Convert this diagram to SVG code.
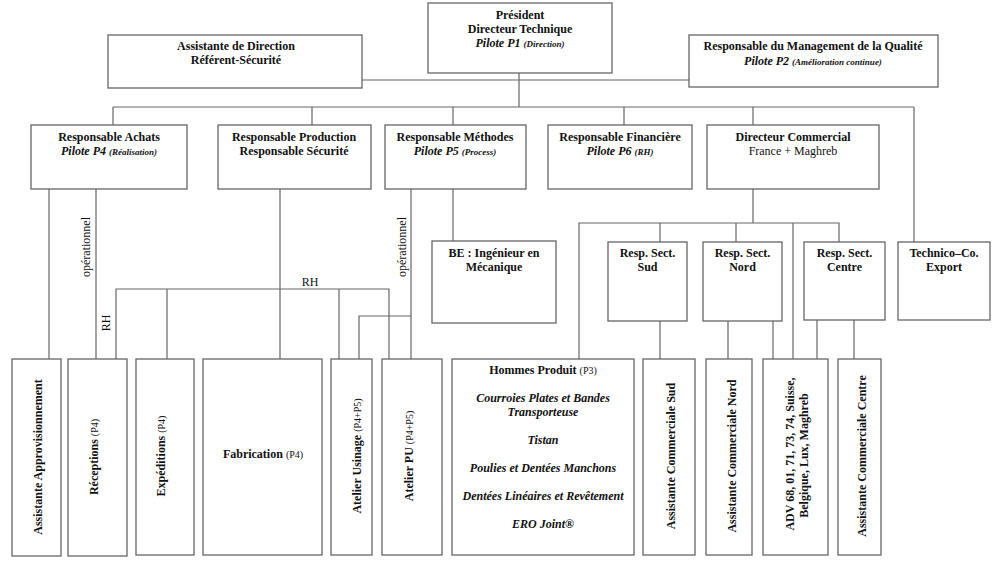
<svg xmlns="http://www.w3.org/2000/svg" width="1000" height="561" viewBox="0 0 1000 561">
<style>
rect.b{fill:#fff;stroke:#666;stroke-width:1.3}
.c line,.c path{stroke:#666;stroke-width:1.2;fill:none}
text{font-family:"Liberation Serif","Times New Roman",serif;font-size:12px;fill:#111}
.t{font-weight:bold;text-anchor:middle}
.m{text-anchor:middle}
.i{font-style:italic;font-weight:bold}
.s{font-size:9px}
.p{font-size:10px;font-weight:normal}
</style>
<rect width="1000" height="561" fill="#fff"/>
<g class="c" id="connectors">
<line x1="362" y1="80" x2="689" y2="80"/>
<line x1="519" y1="73" x2="519" y2="107"/>
<line x1="113" y1="107" x2="914" y2="107"/>
<line x1="113" y1="107" x2="113" y2="125"/>
<line x1="312" y1="107" x2="312" y2="125"/>
<line x1="453" y1="107" x2="453" y2="125"/>
<line x1="624" y1="107" x2="624" y2="125"/>
<line x1="753" y1="107" x2="753" y2="125"/>
<line x1="914" y1="107" x2="914" y2="242"/>
<line x1="49" y1="189" x2="49" y2="359"/>
<line x1="96" y1="189" x2="96" y2="359"/>
<line x1="280" y1="189" x2="280" y2="359"/>
<line x1="411" y1="189" x2="411" y2="359"/>
<line x1="453" y1="189" x2="453" y2="241"/>
<path d="M116 359V289H389V359"/>
<line x1="167" y1="289" x2="167" y2="359"/>
<line x1="339" y1="289" x2="339" y2="359"/>
<path d="M411 316H359V359"/>
<line x1="753" y1="189" x2="753" y2="223"/>
<path d="M579 359V223H839V242"/>
<line x1="660" y1="223" x2="660" y2="242"/>
<line x1="736" y1="223" x2="736" y2="242"/>
<line x1="793" y1="223" x2="793" y2="359"/>
<line x1="660" y1="321" x2="660" y2="359"/>
<line x1="728" y1="321" x2="728" y2="359"/>
<line x1="773" y1="321" x2="773" y2="359"/>
<line x1="817" y1="320" x2="817" y2="359"/>
<line x1="854" y1="320" x2="854" y2="359"/>
<text x="310" y="286" class="m">RH</text>
<text transform="translate(90,247) rotate(-90)" class="m">opérationnel</text>
<text transform="translate(406,247) rotate(-90)" class="m">opérationnel</text>
<text transform="translate(110,323) rotate(-90)" class="m">RH</text>
</g>
<g id="president">
<rect class="b" x="428" y="3" width="184" height="70"/>
<text x="520" y="19" class="t">Président</text>
<text x="520" y="33" class="t">Directeur Technique</text>
<text x="520" y="47" class="t"><tspan class="i">Pilote P1 </tspan><tspan class="i s">(Direction)</tspan></text>
</g>
<g id="assistante-direction">
<rect class="b" x="108" y="35" width="254" height="53"/>
<text x="236" y="50" class="t">Assistante de Direction</text>
<text x="236" y="64" class="t">Référent-Sécurité</text>
</g>
<g id="qualite">
<rect class="b" x="689" y="35" width="249" height="52"/>
<text x="813" y="50" class="t">Responsable du Management de la Qualité</text>
<text x="813" y="65" class="t"><tspan class="i">Pilote P2 </tspan><tspan class="i s">(Amélioration continue)</tspan></text>
</g>
<g id="achats">
<rect class="b" x="31" y="125" width="156" height="64"/>
<text x="109" y="141" class="t">Responsable Achats</text>
<text x="109" y="155" class="t"><tspan class="i">Pilote P4 </tspan><tspan class="i s">(Réalisation)</tspan></text>
</g>
<g id="production">
<rect class="b" x="218" y="125" width="153" height="64"/>
<text x="294" y="141" class="t">Responsable Production</text>
<text x="294" y="155" class="t">Responsable Sécurité</text>
</g>
<g id="methodes">
<rect class="b" x="385" y="125" width="141" height="64"/>
<text x="455" y="141" class="t">Responsable Méthodes</text>
<text x="455" y="155" class="t"><tspan class="i">Pilote P5 </tspan><tspan class="i s">(Process)</tspan></text>
</g>
<g id="financiere">
<rect class="b" x="548" y="125" width="144" height="64"/>
<text x="620" y="141" class="t">Responsable Financière</text>
<text x="620" y="155" class="t"><tspan class="i">Pilote P6 </tspan><tspan class="i s">(RH)</tspan></text>
</g>
<g id="directeur-commercial">
<rect class="b" x="707" y="125" width="172" height="64"/>
<text x="793" y="141" class="t">Directeur Commercial</text>
<text x="793" y="155" class="m">France + Maghreb</text>
</g>
<g id="be">
<rect class="b" x="432" y="241" width="124" height="82"/>
<text x="494" y="257" class="t">BE : Ingénieur en</text>
<text x="494" y="271" class="t">Mécanique</text>
</g>
<g id="sect-sud">
<rect class="b" x="608" y="242" width="79" height="79"/>
<text x="647.5" y="257" class="t">Resp. Sect.</text>
<text x="647.5" y="271" class="t">Sud</text>
</g>
<g id="sect-nord">
<rect class="b" x="703" y="242" width="79" height="79"/>
<text x="742.5" y="257" class="t">Resp. Sect.</text>
<text x="742.5" y="271" class="t">Nord</text>
</g>
<g id="sect-centre">
<rect class="b" x="804" y="242" width="81" height="78"/>
<text x="844.5" y="257" class="t">Resp. Sect.</text>
<text x="844.5" y="271" class="t">Centre</text>
</g>
<g id="technico">
<rect class="b" x="898" y="242" width="92" height="78"/>
<text x="944" y="257" class="t">Technico–Co.</text>
<text x="944" y="271" class="t">Export</text>
</g>
<g id="assistante-appro">
<rect class="b" x="12" y="359" width="49" height="197"/>
<text transform="translate(41.5,457) rotate(-90)" class="t">Assistante Approvisionnement</text>
</g>
<g id="receptions">
<rect class="b" x="68" y="359" width="59" height="197"/>
<text transform="translate(98,457) rotate(-90)" class="t">Réceptions <tspan class="p">(P4)</tspan></text>
</g>
<g id="expeditions">
<rect class="b" x="136" y="359" width="58" height="196"/>
<text transform="translate(165,456) rotate(-90)" class="t">Expéditions <tspan class="p">(P4)</tspan></text>
</g>
<g id="fabrication">
<rect class="b" x="203" y="359" width="119" height="196"/>
<text x="263" y="458" class="t">Fabrication <tspan class="p">(P4)</tspan></text>
</g>
<g id="atelier-usinage">
<rect class="b" x="331" y="359" width="41" height="196"/>
<text transform="translate(361,456) rotate(-90)" class="t">Atelier Usinage <tspan class="p">(P4+P5)</tspan></text>
</g>
<g id="atelier-pu">
<rect class="b" x="382" y="359" width="60" height="196"/>
<text transform="translate(412.5,456) rotate(-90)" class="t">Atelier PU <tspan class="p">(P4+P5)</tspan></text>
</g>
<g id="hommes-produit">
<rect class="b" x="452" y="359" width="182" height="196"/>
<text x="543" y="374" class="t">Hommes Produit <tspan class="p">(P3)</tspan></text>
<text x="543" y="402" class="t i">Courroies Plates et Bandes</text>
<text x="543" y="416" class="t i">Transporteuse</text>
<text x="543" y="444" class="t i">Tistan</text>
<text x="543" y="472" class="t i">Poulies et Dentées Manchons</text>
<text x="543" y="500" class="t i">Dentées Linéaires et Revêtement</text>
<text x="543" y="528" class="t i">ERO Joint®</text>
</g>
<g id="assistante-sud">
<rect class="b" x="643" y="359" width="52" height="196"/>
<text transform="translate(674.5,456) rotate(-90)" class="t">Assistante Commerciale Sud</text>
</g>
<g id="assistante-nord">
<rect class="b" x="706" y="359" width="46" height="196"/>
<text transform="translate(735.5,456) rotate(-90)" class="t">Assistante Commerciale Nord</text>
</g>
<g id="adv">
<rect class="b" x="763" y="359" width="65" height="196"/>
<text transform="translate(793.5,454) rotate(-90)" class="t">ADV 68, 01, 71, 73, 74, Suisse,</text>
<text transform="translate(808,455.5) rotate(-90)" class="t">Belgique, Lux, Maghreb</text>
</g>
<g id="assistante-centre">
<rect class="b" x="838" y="359" width="43" height="196"/>
<text transform="translate(865.5,456) rotate(-90)" class="t">Assistante Commerciale Centre</text>
</g>
</svg>
